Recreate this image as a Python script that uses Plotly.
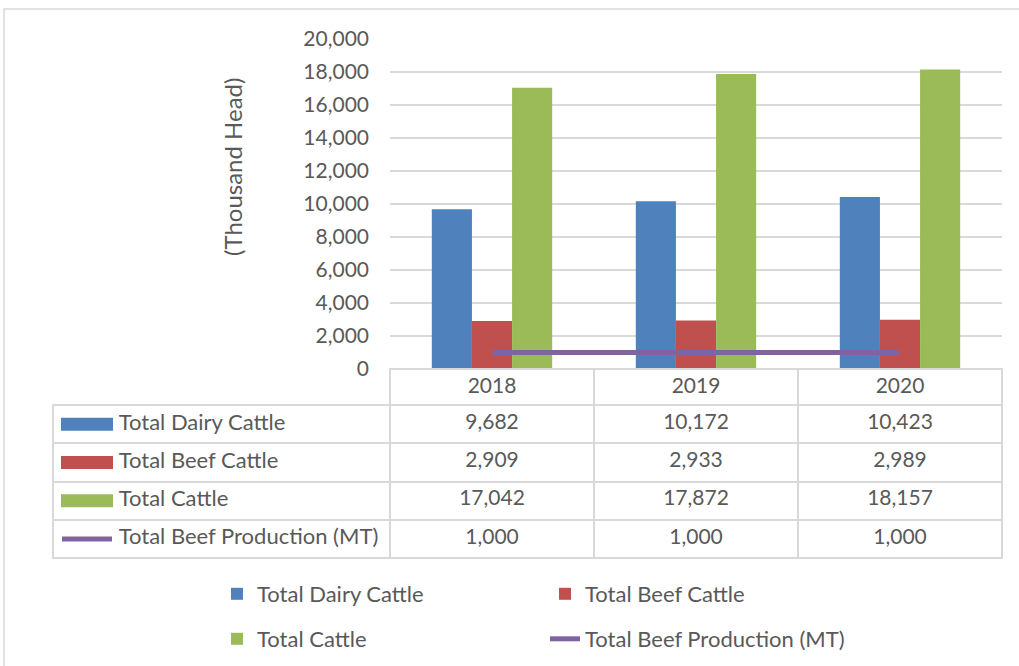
import plotly.graph_objects as go

years = ["2018", "2019", "2020"]
dairy = [9682, 10172, 10423]
beef = [2909, 2933, 2989]
total = [17042, 17872, 18157]
production = [1000, 1000, 1000]

series_names = ["Total Dairy Cattle", "Total Beef Cattle", "Total Cattle", "Total Beef Production (MT)"]
colors = ["#4F81BD", "#C0504D", "#9BBB59", "#8064A2"]
y_ticks = list(range(0, 20001, 2000))

W, H = 1019, 666
FONT = "Lato"
TXT = "#595959"
GRID = "#D9D9D9"
FS = 22
FSN = 21

fig = go.Figure()
for name, vals, col, leg in zip(series_names[:3], [dairy, beef, total], colors[:3], ["legend", "legend", "legend2"]):
    fig.add_trace(go.Bar(x=years, y=vals, name=name, marker=dict(color=col, line=dict(width=0)), legend=leg))
fig.add_trace(go.Scatter(x=years, y=production, name=series_names[3], mode="lines",
                         line=dict(color=colors[3], width=5), legend="legend2"))

# data table
rows = [dairy, beef, total, production]
pad = "\u00a0" * 10 + "\u200a"
labels = [pad + n.replace(" ", "\u00a0") for n in series_names]
col_vals = [labels] + [[f"{r[j]:,}" for r in rows] for j in range(3)]
header_h = 36
cell_h = 38.3
tbl_top = 369
tbl_bottom = tbl_top + header_h + 4 * cell_h + 4
fig.add_trace(go.Table(
    domain=dict(x=[53 / W, 1002 / W], y=[1 - tbl_bottom / H, 1 - tbl_top / H]),
    columnwidth=[337, 204, 204, 204],
    header=dict(values=[""] + years, height=header_h,
                fill=dict(color=["rgba(0,0,0,0)", "white", "white", "white"]),
                line=dict(color=["rgba(0,0,0,0)", GRID, GRID, GRID], width=2),
                font=dict(family=FONT, size=FSN, color=TXT), align="center"),
    cells=dict(values=col_vals, height=cell_h,
               fill=dict(color="white"),
               line=dict(color=GRID, width=2),
               font=dict(family=FONT, size=[FS, FSN, FSN, FSN], color=TXT),
               align=["left", "center", "center", "center"]),
))

shapes = []
# outer chart border
shapes.append(dict(type="rect", xref="paper", yref="paper", x0=4 / W, x1=1.2, y0=-0.2, y1=1 - 9 / H,
                   line=dict(color=GRID, width=1.5), fillcolor="rgba(0,0,0,0)", layer="below"))
# legend keys inside table
for i, col in enumerate(colors):
    yc = tbl_top + header_h + cell_h * (i + 0.5)
    if i < 3:
        shapes.append(dict(type="rect", xref="paper", yref="paper", x0=61 / W, x1=113 / W,
                           y0=1 - (yc + 6.5) / H, y1=1 - (yc - 6.5) / H,
                           fillcolor=col, line=dict(width=0), layer="above"))
    else:
        shapes.append(dict(type="line", xref="paper", yref="paper", x0=62 / W, x1=112 / W,
                           y0=1 - yc / H, y1=1 - yc / H,
                           line=dict(color=col, width=5), layer="above"))

fig.update_layout(
    width=W, height=H,
    margin=dict(l=0, r=0, t=0, b=0, autoexpand=False),
    paper_bgcolor="white", plot_bgcolor="white",
    font=dict(family=FONT, size=FS, color=TXT),
    barmode="group", bargap=0.41, bargroupgap=0,
    xaxis=dict(domain=[390 / W, 1002 / W], showticklabels=False, showline=False, showgrid=False,
               ticks="", fixedrange=True),
    yaxis=dict(domain=[1 - 369 / H, 1 - 39 / H], range=[0, 20000], tickvals=y_ticks,
               tickformat=",", showgrid=True, gridcolor=GRID, gridwidth=1.5,
               zeroline=False, showline=False, ticks="", ticklabelstandoff=20,
               tickfont=dict(family=FONT, size=FSN, color=TXT)),
    legend=dict(orientation="h", x=217 / W, xanchor="left", y=1 - 594 / H, yanchor="middle",
                entrywidth=283, entrywidthmode="pixels", bgcolor="rgba(0,0,0,0)",
                font=dict(family=FONT, size=FS, color=TXT), traceorder="normal"),
    legend2=dict(orientation="h", x=217 / W, xanchor="left", y=1 - 639 / H, yanchor="middle",
                 entrywidth=283, entrywidthmode="pixels", bgcolor="rgba(0,0,0,0)",
                 font=dict(family=FONT, size=FS, color=TXT), traceorder="normal"),
    shapes=shapes,
    annotations=[dict(text="(Thousand Head)", xref="paper", yref="paper", x=233 / W, y=1 - 167 / H,
                      textangle=-90, showarrow=False, font=dict(family=FONT, size=24, color=TXT),
                      xanchor="center", yanchor="middle")],
)

fig.write_html("out.html", config={"displayModeBar": False},
               post_script="document.body.style.margin='0';document.body.style.overflow='hidden';")
